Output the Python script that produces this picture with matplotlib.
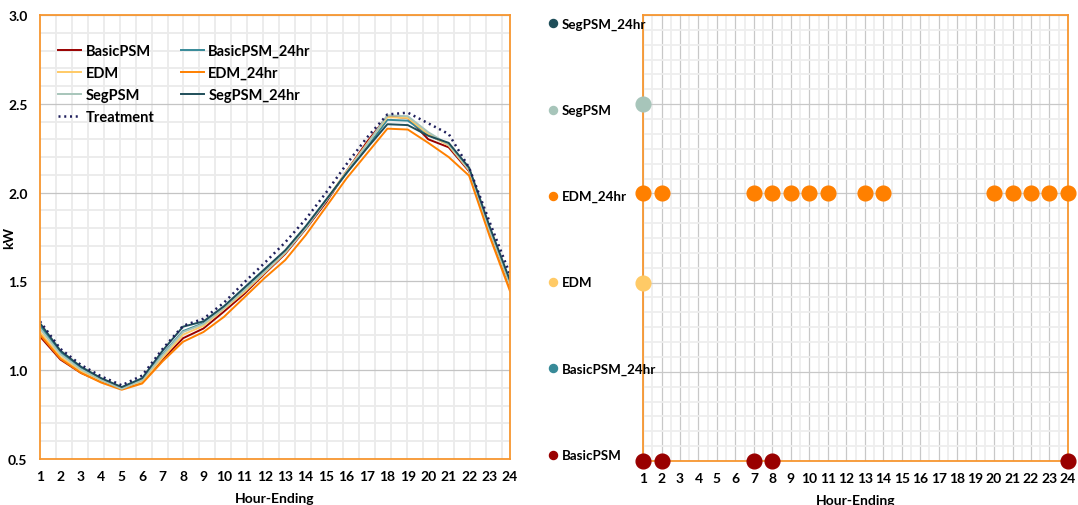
import numpy as np
import matplotlib
matplotlib.use("Agg")
from matplotlib import pyplot as plt
from matplotlib.ticker import MultipleLocator, FixedLocator
from matplotlib.transforms import ScaledTranslation

plt.rcParams['font.family'] = ['Lato', 'DejaVu Sans']
plt.rcParams['font.weight'] = 'bold'

hours = list(range(1, 25))

# average load profiles, kW
basic = [1.19, 1.06, 0.985, 0.935, 0.895, 0.93, 1.06, 1.18, 1.235, 1.33, 1.43, 1.545,
         1.655, 1.795, 1.945, 2.12, 2.285, 2.43, 2.42, 2.30, 2.255, 2.12, 1.78, 1.47]
basic_24hr = [1.25, 1.10, 1.01, 0.95, 0.895, 0.945, 1.09, 1.22, 1.265, 1.355, 1.455, 1.56,
              1.665, 1.80, 1.955, 2.11, 2.255, 2.41, 2.405, 2.325, 2.27, 2.13, 1.80, 1.495]
edm = [1.215, 1.075, 0.995, 0.94, 0.90, 0.935, 1.07, 1.20, 1.25, 1.345, 1.44, 1.55,
       1.66, 1.80, 1.955, 2.12, 2.275, 2.425, 2.42, 2.33, 2.265, 2.125, 1.785, 1.475]
edm_24hr = [1.20, 1.065, 0.985, 0.93, 0.89, 0.925, 1.05, 1.16, 1.215, 1.30, 1.41, 1.52,
            1.62, 1.76, 1.92, 2.08, 2.22, 2.36, 2.355, 2.28, 2.20, 2.095, 1.755, 1.445]
seg = [1.235, 1.09, 1.005, 0.945, 0.895, 0.945, 1.085, 1.215, 1.26, 1.35, 1.45, 1.555,
       1.665, 1.80, 1.955, 2.115, 2.27, 2.435, 2.43, 2.34, 2.27, 2.13, 1.79, 1.485]
seg_24hr = [1.265, 1.11, 1.02, 0.955, 0.905, 0.955, 1.11, 1.245, 1.275, 1.36, 1.465, 1.57,
            1.675, 1.81, 1.96, 2.11, 2.25, 2.385, 2.38, 2.32, 2.28, 2.14, 1.81, 1.505]
treatment = [1.275, 1.12, 1.03, 0.965, 0.915, 0.97, 1.12, 1.25, 1.29, 1.38, 1.495, 1.605,
             1.72, 1.85, 2.00, 2.16, 2.31, 2.44, 2.45, 2.39, 2.33, 2.14, 1.835, 1.54]

# hours flagged for each model (right panel)
models = ['BasicPSM', 'BasicPSM_24hr', 'EDM', 'EDM_24hr', 'SegPSM', 'SegPSM_24hr']
flag_hours = {
    'BasicPSM': [1, 2, 7, 8, 24],
    'BasicPSM_24hr': [],
    'EDM': [1],
    'EDM_24hr': [1, 2, 7, 8, 9, 10, 11, 13, 14, 20, 21, 22, 23, 24],
    'SegPSM': [1],
    'SegPSM_24hr': [],
}

colors = {
    'BasicPSM': '#990000',
    'BasicPSM_24hr': '#378A98',
    'EDM': '#FFCA66',
    'EDM_24hr': '#FF8000',
    'SegPSM': '#A7C5BA',
    'SegPSM_24hr': '#1F4E59',
    'Treatment': '#1F1F5C',
}
orange = '#F7962F'

fig = plt.figure(figsize=(10.78, 5.06), dpi=100)

# ---- left: load curves
ax = fig.add_axes([0.0371, 0.0909, 0.436, 0.8775])
series = [('BasicPSM', basic), ('BasicPSM_24hr', basic_24hr), ('EDM', edm),
          ('EDM_24hr', edm_24hr), ('SegPSM', seg), ('SegPSM_24hr', seg_24hr)]
lines = {}
for name, vals in series:
    lines[name], = ax.plot(hours, vals, '-', color=colors[name], lw=1.4, label=name)
lines['Treatment'], = ax.plot(hours, treatment, color=colors['Treatment'], lw=1.8,
                              linestyle=(0, (0.8, 1.5)), label='Treatment')

ax.set_xlim(1, 24)
ax.set_ylim(0.5, 3.0)
ax.set_xticks(hours)
ax.set_yticks([0.5, 1.0, 1.5, 2.0, 2.5, 3.0])
ax.set_yticklabels(['0.5', '1.0', '1.5', '2.0', '2.5', '3.0'])
ax.xaxis.set_minor_locator(FixedLocator(np.arange(1.78, 24, 0.78)))
ax.yaxis.set_minor_locator(MultipleLocator(0.1))
ax.grid(which='minor', color='#EBEBEB', lw=1.3)
ax.grid(which='major', axis='y', color='#C4C4C4', lw=0.9)
ax.set_axisbelow(True)
ax.tick_params(which='both', length=0, labelsize=10)
ax.tick_params(axis='y', pad=9)
ax.tick_params(axis='x', pad=8)
for s in ax.spines.values():
    s.set_color(orange)
    s.set_linewidth(1.3)
ax.set_xlabel('Hour-Ending', fontsize=10, fontweight='bold', labelpad=7)
ax.set_ylabel('kW', fontsize=10, fontweight='bold')
ax.yaxis.set_label_coords(-0.052, 0.5)

order = ['BasicPSM', 'EDM', 'SegPSM', 'Treatment', 'BasicPSM_24hr', 'EDM_24hr', 'SegPSM_24hr']
ax.legend([lines[n] for n in order], order, ncol=2, loc='upper left',
          bbox_to_anchor=(0.01, 0.965), frameon=False, fontsize=10.5,
          handlelength=1.6, handletextpad=0.3, columnspacing=1.8, labelspacing=0.55)

# ---- right: flagged hours by model
ax2 = fig.add_axes([0.5965, 0.0870, 0.3942, 0.8814])
dot_shift = ax2.get_yaxis_transform() + ScaledTranslation(-0.90, 0, fig.dpi_scale_trans)
for i, name in enumerate(models):
    hrs = flag_hours[name]
    ax2.plot(hrs, [i] * len(hrs), 'o', color=colors[name], markersize=10.6,
             clip_on=False, zorder=5)
    label_y = 0.07 + 0.967 * i
    ax2.plot([0], [label_y], 'o', color=colors[name], markersize=5.8,
             transform=dot_shift, clip_on=False)
    ax2.annotate(name, xy=(0, label_y), xycoords=('axes fraction', 'data'),
                 xytext=(-58.5, 0), textcoords='offset points', va='center', ha='left',
                 fontsize=9.6, fontweight='bold')

ax2.set_xlim(1, 24)
ax2.set_ylim(0, 5)
ax2.set_xticks(hours)
ax2.set_yticks(range(len(models)))
ax2.set_yticklabels([])
ax2.xaxis.set_minor_locator(MultipleLocator(0.5))
ax2.yaxis.set_minor_locator(MultipleLocator(1 / 6))
ax2.grid(which='minor', color='#EEEEEE', lw=1.3)
ax2.grid(which='major', color='#C8C8C8', lw=0.9)
ax2.set_axisbelow(True)
ax2.tick_params(which='both', length=0, labelsize=10)
ax2.tick_params(axis='x', pad=8)
for s in ax2.spines.values():
    s.set_color(orange)
    s.set_linewidth(1.3)
ax2.set_xlabel('Hour-Ending', fontsize=10, fontweight='bold', labelpad=7)

fig.savefig('out.png', dpi=100)
